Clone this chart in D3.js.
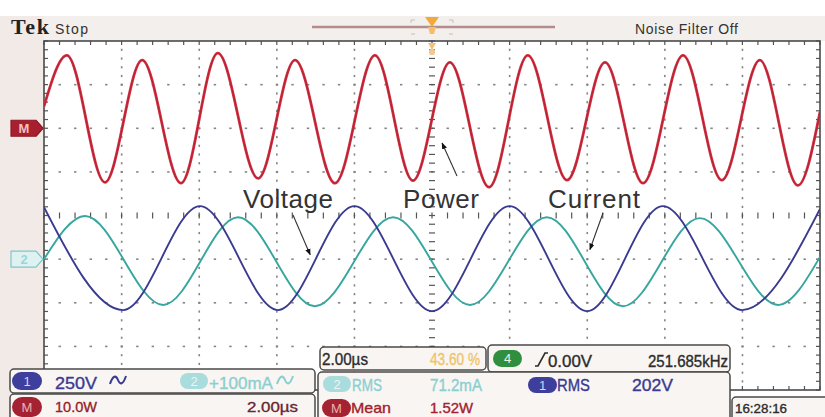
<!DOCTYPE html>
<html>
<head>
<meta charset="utf-8">
<script src="https://cdn.jsdelivr.net/npm/d3@7"></script>
<style>
  body { margin: 0; background: #fff; }
  svg { display: block; font-family: "Liberation Sans", Arial, sans-serif; }
</style>
</head>
<body>
<div id="scope"></div>
<script>
const FRAME_WIDTH = 825;
const FRAME_HEIGHT = 417;
const PLOT = {left: 44, right: 820, top: 41, bottom: 390};

// screen is 10 x 8 divisions, 2.00us/div
const TIME_DOMAIN = [0, 20];
const DIV_DOMAIN = [-4, 4];

// channel reference level (div) and scale per div
const POWER_REF = 2, POWER_PER_DIV = 10;    // math channel, W
const VOLT_REF = -1, VOLT_PER_DIV = 250;    // ch1, V
const CURR_REF = -1, CURR_PER_DIV = 100;    // ch2, mA

// traces (peaks / troughs / edges)
const POWER_T = [0, 0.59, 1.57, 2.53, 3.53, 4.48, 5.52, 6.47, 7.50, 8.53, 9.51,
                 10.46, 11.47, 12.47, 13.48, 14.46, 15.44, 16.47, 17.47, 18.45, 19.43, 20];
const POWER_W = [5.0, 16.7, -12.4, 15.6, -12.6, 17.2, -11.5, 15.6, -12.6, 16.7, -12.0,
                 15.1, -13.5, 16.7, -11.9, 15.1, -12.6, 16.7, -11.9, 15.6, -13.1, 3.7];

const VOLT_T = [0, 2.04, 4.02, 6.03, 8.0, 10.0, 12.0, 14.0, 15.95, 17.99, 20];
const VOLT_V = [298, -292, 304, -292, 304, -298, 304, -298, 304, -292, 287];

const CURR_T = [0, 1.06, 3.07, 5.0, 6.98, 9.0, 10.98, 12.96, 14.92, 16.9, 18.92, 20];
const CURR_MA = [0, 99, -105, 96, -108, 96, -105, 96, -108, 94, -105, 5];

// screen text
const HEADER = ["Tek", "Stop", "Noise Filter Off"];
const LABELS = ["Voltage", "Power", "Current"];
const CH_READOUT = ["250V", "+100mA", "10.0W", "2.00\u00b5s"];
const HORIZ_READOUT = ["2.00\u00b5s", "43.60 %", "0.00V", "251.685kHz"];
const MEAS_NAMES = ["RMS", "RMS", "Mean"];
const MEAS_VALUES = ["71.2mA", "202V", "1.52W"];
const CLOCK = "16:28:16";

const COLORS = {red: "#d42f40", redDark: "#a82232", blue: "#3a3a90", cyan: "#36a69e",
                cyanText: "#8ccfcf", yellow: "#f0c46a", green: "#2f8f3f", ink: "#2c2c2c"};

const SVG = d3.select("#scope")
  .append("svg")
    .attr("width", FRAME_WIDTH)
    .attr("height", FRAME_HEIGHT);

const X_SCALE = d3.scaleLinear().domain(TIME_DOMAIN).range([PLOT.left, PLOT.right]);
const DIV_SCALE = d3.scaleLinear().domain(DIV_DOMAIN).range([PLOT.bottom, PLOT.top]);

function chanScale(ref, perDiv) {
  return d3.scaleLinear()
    .domain(DIV_DOMAIN.map((d) => (d - ref) * perDiv))
    .range([PLOT.bottom, PLOT.top]);
}
const Y_POWER = chanScale(POWER_REF, POWER_PER_DIV);
const Y_VOLT = chanScale(VOLT_REF, VOLT_PER_DIV);
const Y_CURR = chanScale(CURR_REF, CURR_PER_DIV);

// background strips
SVG.append("rect").attr("x", 0).attr("y", 0).attr("width", FRAME_WIDTH).attr("height", FRAME_HEIGHT).attr("fill", "#fff");
SVG.append("rect").attr("x", 0).attr("y", 16).attr("width", FRAME_WIDTH).attr("height", PLOT.top - 16).attr("fill", "#f3efec");
SVG.append("rect").attr("x", 0).attr("y", 16).attr("width", PLOT.left).attr("height", FRAME_HEIGHT).attr("fill", "#f1eae6");
SVG.append("rect").attr("x", PLOT.left).attr("y", PLOT.top)
  .attr("width", PLOT.right - PLOT.left).attr("height", PLOT.bottom - PLOT.top).attr("fill", "#fff");

// graticule
const MINOR_X = d3.range(0, 20.0001, 0.4);
const MINOR_Y = d3.range(-4, 4.0001, 0.2);
const grid = SVG.append("g").attr("fill", "#858585");

[-3, -2, -1, 1, 2, 3].forEach((dv) => {
  grid.selectAll(null).data(MINOR_X.slice(1, -1)).enter().append("rect")
    .attr("x", (t) => X_SCALE(t) - 1).attr("y", DIV_SCALE(dv) - 0.75)
    .attr("width", 2.4).attr("height", 1.6);
});
[2, 4, 6, 8, 12, 14, 16, 18].forEach((t) => {
  grid.selectAll(null).data(MINOR_Y.slice(1, -1)).enter().append("rect")
    .attr("x", X_SCALE(t) - 0.75).attr("y", (dv) => DIV_SCALE(dv) - 1)
    .attr("width", 1.6).attr("height", 2.2);
});

const ticks = SVG.append("g").attr("stroke", "#555").attr("stroke-width", 1.2);
// center cross ticks
ticks.selectAll(null).data(MINOR_Y).enter().append("line")
  .attr("x1", X_SCALE(10) - 3).attr("x2", X_SCALE(10) + 3)
  .attr("y1", (d) => DIV_SCALE(d)).attr("y2", (d) => DIV_SCALE(d));
ticks.selectAll(null).data(MINOR_X).enter().append("line")
  .attr("x1", (d) => X_SCALE(d)).attr("x2", (d) => X_SCALE(d))
  .attr("y1", DIV_SCALE(0) - 3).attr("y2", DIV_SCALE(0) + 3);
// border ticks
ticks.selectAll(null).data(MINOR_X).enter().append("line")
  .attr("x1", (d) => X_SCALE(d)).attr("x2", (d) => X_SCALE(d))
  .attr("y1", PLOT.top).attr("y2", PLOT.top + 4);
ticks.selectAll(null).data(MINOR_X).enter().append("line")
  .attr("x1", (d) => X_SCALE(d)).attr("x2", (d) => X_SCALE(d))
  .attr("y1", PLOT.bottom - 4).attr("y2", PLOT.bottom);
ticks.selectAll(null).data(MINOR_Y).enter().append("line")
  .attr("x1", PLOT.left).attr("x2", PLOT.left + 4)
  .attr("y1", (d) => DIV_SCALE(d)).attr("y2", (d) => DIV_SCALE(d));
ticks.selectAll(null).data(MINOR_Y).enter().append("line")
  .attr("x1", PLOT.right - 4).attr("x2", PLOT.right)
  .attr("y1", (d) => DIV_SCALE(d)).attr("y2", (d) => DIV_SCALE(d));

SVG.append("rect")
  .attr("x", PLOT.left).attr("y", PLOT.top)
  .attr("width", PLOT.right - PLOT.left).attr("height", PLOT.bottom - PLOT.top)
  .attr("fill", "none").attr("stroke", "#4a4a4a").attr("stroke-width", 1.6);

// traces
SVG.append("clipPath").attr("id", "screen").append("rect")
  .attr("x", PLOT.left).attr("y", PLOT.top)
  .attr("width", PLOT.right - PLOT.left).attr("height", PLOT.bottom - PLOT.top);
const traces = SVG.append("g").attr("clip-path", "url(#screen)").attr("fill", "none");

function trace(times, values, yScale, color, width) {
  const line = d3.line()
    .x((d, i) => X_SCALE(times[i]))
    .y((d) => yScale(d))
    .curve(d3.curveMonotoneX);
  traces.append("path").datum(values)
    .attr("d", line).attr("stroke", color).attr("stroke-width", width)
    .attr("stroke-linejoin", "round");
}
trace(POWER_T, POWER_W, Y_POWER, COLORS.red, 2.8);
trace(POWER_T, POWER_W, Y_POWER, COLORS.redDark, 0.9);
trace(CURR_T, CURR_MA, Y_CURR, COLORS.cyan, 1.9);
trace(VOLT_T, VOLT_V, Y_VOLT, COLORS.blue, 1.9);

// annotations with arrows
SVG.append("defs").append("marker")
  .attr("id", "head").attr("viewBox", "0 0 10 10").attr("refX", 9).attr("refY", 5)
  .attr("markerWidth", 6).attr("markerHeight", 6).attr("orient", "auto")
  .append("path").attr("d", "M0,1L10,5L0,9Z").attr("fill", "#111");

const notes = SVG.append("g").attr("fill", "#333").attr("font-size", 26);
notes.append("text").attr("x", 243).attr("y", 208).attr("textLength", 90).text(LABELS[0]);
notes.append("text").attr("x", 403).attr("y", 208).attr("textLength", 76).text(LABELS[1]);
notes.append("text").attr("x", 548).attr("y", 208).attr("textLength", 92).text(LABELS[2]);

const arrows = SVG.append("g").attr("stroke", "#333").attr("stroke-width", 1.1);
arrows.append("line").attr("x1", 293).attr("y1", 215)
  .attr("x2", X_SCALE(6.86)).attr("y2", Y_VOLT(25)).attr("marker-end", "url(#head)");
arrows.append("line").attr("x1", 457).attr("y1", 176)
  .attr("x2", X_SCALE(10.26)).attr("y2", Y_POWER(-3.4)).attr("marker-end", "url(#head)");
arrows.append("line").attr("x1", 603).attr("y1", 213)
  .attr("x2", X_SCALE(14.07)).attr("y2", Y_CURR(22)).attr("marker-end", "url(#head)");

// header
SVG.append("text").attr("x", 11).attr("y", 34)
  .attr("font-family", "Liberation Serif, serif").attr("font-weight", "bold")
  .attr("font-size", 22).attr("textLength", 38).attr("fill", "#222").text(HEADER[0]);
SVG.append("text").attr("x", 55).attr("y", 34).attr("font-size", 14)
  .attr("textLength", 33).attr("fill", "#333").text(HEADER[1]);
SVG.append("text").attr("x", 635).attr("y", 34).attr("font-size", 14)
  .attr("textLength", 103).attr("fill", "#333").text(HEADER[2]);

SVG.append("line").attr("x1", 312).attr("x2", 555).attr("y1", 27).attr("y2", 27)
  .attr("stroke", "#b58c8c").attr("stroke-width", 2.5);
SVG.append("path").attr("d", "M411,20h4M411,20v3M453,20h-4M453,20v3M411,34h4M453,34h-4")
  .attr("stroke", "#c8c0bc").attr("fill", "none");
const trig = SVG.append("g").attr("fill", "#f2a93a");
trig.append("path").attr("d", "M425,17H439L432,27Z");
trig.append("path").attr("d", "M428,27H436L434,34H430Z").attr("fill", "#f5bf6a");
trig.append("path").attr("d", "M428,43H436L432,50Z").attr("fill", "#f3c27a");
trig.append("rect").attr("x", 429).attr("y", 49).attr("width", 6).attr("height", 6).attr("rx", 2).attr("fill", "#f1c890");

// channel reference markers
function refMarker(y, fill, stroke, label, color) {
  const g = SVG.append("g");
  g.append("path")
    .attr("d", `M11,${y - 8}H36L43,${y}L36,${y + 8}H11Z`)
    .attr("fill", fill).attr("stroke", stroke).attr("stroke-width", 1.2).attr("stroke-linejoin", "round");
  g.append("text").attr("x", 24).attr("y", y + 5).attr("text-anchor", "middle")
    .attr("font-size", 13).attr("font-weight", "bold").attr("fill", color).text(label);
}
refMarker(DIV_SCALE(POWER_REF), "#a8202f", "#8e1826", "M", "#f1c0c0");
refMarker(DIV_SCALE(CURR_REF), "#dff2f2", "#7cc8c8", "2", "#9ad6d6");

// readouts
const BOX_FILL = "#f8f5f3";
const BOX_STROKE = "#4a4a4a";
function box(x, y, w, h) {
  SVG.append("rect").attr("x", x).attr("y", y).attr("width", w).attr("height", h).attr("rx", 4)
    .attr("fill", BOX_FILL).attr("stroke", BOX_STROKE).attr("stroke-width", 1.5);
}
function pill(x, y, w, h, fill, label, color) {
  SVG.append("rect").attr("x", x).attr("y", y).attr("width", w).attr("height", h)
    .attr("rx", h / 2).attr("fill", fill);
  SVG.append("text").attr("x", x + w / 2).attr("y", y + h / 2 + 4.5).attr("text-anchor", "middle")
    .attr("font-size", 13).attr("fill", color).text(label);
}
function readout(x, y, txt, color, len, size) {
  SVG.append("text").attr("x", x).attr("y", y).attr("font-size", size || 17)
    .attr("textLength", len).attr("lengthAdjust", "spacingAndGlyphs")
    .attr("fill", color).attr("stroke", color).attr("stroke-width", 0.35).text(txt);
}
function wave(x, y, color) {
  SVG.append("path")
    .attr("d", `M${x},${y}c3,-9 6,-9 8,-4s5,5 8,-4`)
    .attr("fill", "none").attr("stroke", color).attr("stroke-width", 2);
}

// vertical channel readouts
box(10, 369, 305, 24);
box(10, 394, 305, 30);
pill(12, 372, 30, 18, "#3e3e9c", "1", "#d6d6f2");
readout(55, 389, CH_READOUT[0], COLORS.blue, 42);
wave(110, 384, COLORS.blue);
pill(180, 373, 28, 16, "#a9dcdc", "2", "#e8f6f6");
readout(209, 389, CH_READOUT[1], COLORS.cyanText, 64);
wave(277, 384, COLORS.cyanText);
pill(12, 397, 30, 20, "#a42232", "M", "#eab3b3");
readout(55, 412, CH_READOUT[2], "#951c2b", 42, 15);
readout(247, 412, CH_READOUT[3], "#6a2630", 51, 15);

// horizontal / trigger readouts
box(320, 347, 166, 23);
readout(322, 365, HORIZ_READOUT[0], COLORS.ink, 46, 16);
readout(430, 365, HORIZ_READOUT[1], COLORS.yellow, 50, 16);
box(488, 345, 242, 27);
pill(493, 350, 29, 17, COLORS.green, "4", "#e8f6ea");
SVG.append("path").attr("d", "M535,366h3l7,-13h3").attr("fill", "none")
  .attr("stroke", COLORS.ink).attr("stroke-width", 1.6);
readout(548, 367, HORIZ_READOUT[2], COLORS.ink, 44, 16);
readout(648, 367, HORIZ_READOUT[3], COLORS.ink, 80, 16);

// measurements
box(318, 372, 412, 52);
pill(323, 376, 28, 16, "#a9dcdc", "2", "#e8f6f6");
readout(352, 391, MEAS_NAMES[0], COLORS.cyanText, 30, 16);
readout(430, 391, MEAS_VALUES[0], COLORS.cyanText, 52, 16);
pill(528, 377, 29, 16, "#3e3e9c", "1", "#d6d6f2");
readout(557, 391, MEAS_NAMES[1], COLORS.blue, 33, 16);
readout(632, 391, MEAS_VALUES[1], COLORS.blue, 41, 16);
pill(322, 399, 29, 18, "#a42232", "M", "#eab3b3");
readout(351, 413, MEAS_NAMES[2], "#a4202e", 40, 15);
readout(430, 413, MEAS_VALUES[2], "#a4202e", 43, 15);

// clock
box(732, 397, 110, 30);
readout(735, 413, CLOCK, COLORS.ink, 52, 13);
</script>
</body>
</html>
